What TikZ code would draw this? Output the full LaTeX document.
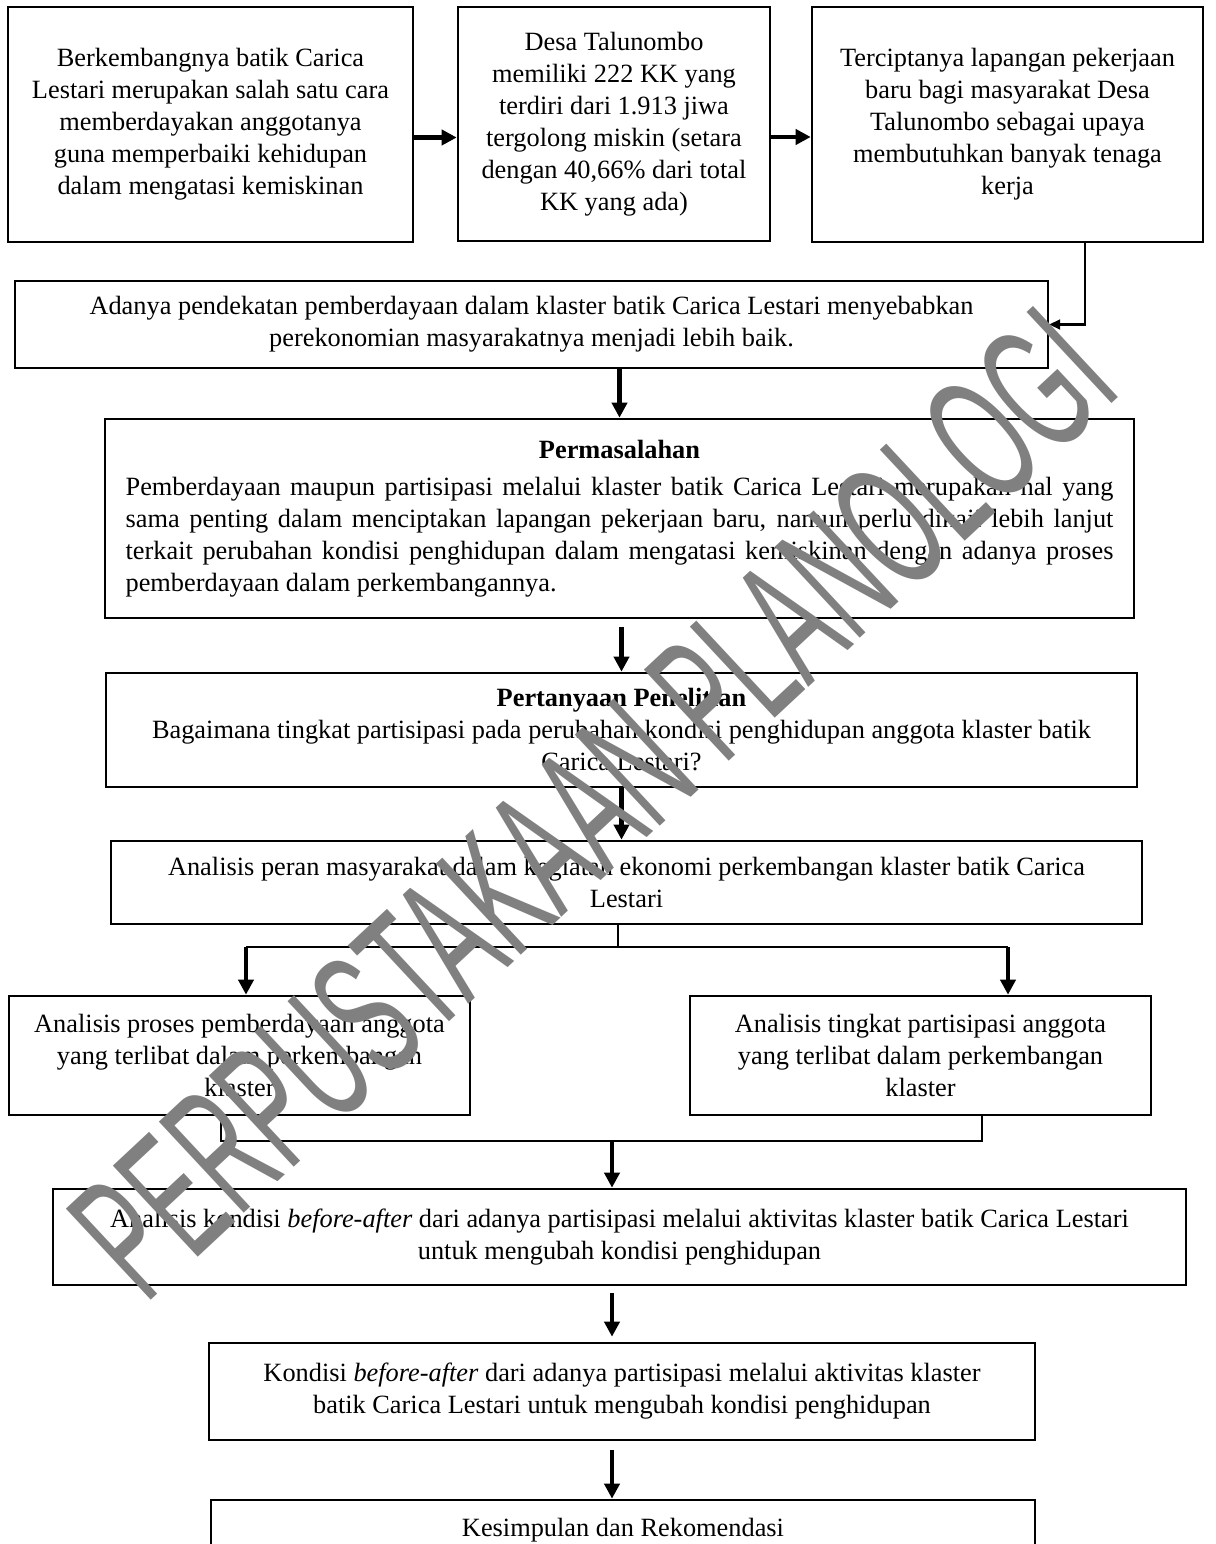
\documentclass[tikz,border=0pt]{standalone}
\usepackage{fontspec}
\setmainfont{Liberation Serif}
\newfontfamily\wmfont{Liberation Sans}
\usepackage{graphicx}
\usetikzlibrary{arrows.meta}
\tikzset{box/.style={draw, line width=1.5pt, align=center, inner sep=0pt,
   font=\fontsize{15}{18.2}\selectfont},
 flow/.style={-{Triangle[length=0.3cm,width=0.3cm]}, line width=2.3pt},
 thinflow/.style={-{Triangle[length=0.22cm,width=0.2cm]}, line width=1.2pt},
 link/.style={line width=1.3pt},
 wmark/.style={text=black!50, inner sep=0pt,
   font=\wmfont\fontsize{103}{103}\selectfont},
 }

\begin{document}
\begin{tikzpicture}[x=0.02cm, y=-0.02cm]
        \clip (0,0) rectangle (1215,1544);
        \node[box, minimum width=8.1cm, minimum height=4.7cm] (b1) at (210.5,124.5)
            {Berkembangnya batik Carica\\ Lestari merupakan salah satu cara\\ memberdayakan anggotanya\\ guna memperbaiki kehidupan\\ dalam mengatasi kemiskinan};
        \node[box, minimum width=6.24cm, minimum height=4.68cm] (b2) at (614,124)
            {Desa Talunombo\\ memiliki 222 KK yang\\ terdiri dari 1.913 jiwa\\ tergolong miskin (setara\\ dengan 40,66\% dari total\\ KK yang ada)};
        \node[box, minimum width=7.82cm, minimum height=4.7cm] (b3) at (1007.5,124.5)
            {Terciptanya lapangan pekerjaan\\ baru bagi masyarakat Desa\\ Talunombo sebagai upaya\\ membutuhkan banyak tenaga\\ kerja};
        \node[box, minimum width=20.66cm, minimum height=1.74cm] (b4) at (531.5,324.5)
            {Adanya pendekatan pemberdayaan dalam klaster batik Carica Lestari menyebabkan\\ perekonomian masyarakatnya menjadi lebih baik.};
        \node[box, minimum width=20.58cm, minimum height=3.98cm, text width=19.76cm, align=justify] (b5) at (619.5,518.5)
            {{\centering\textbf{Permasalahan}\par}\vskip 3pt
             Pemberdayaan maupun partisipasi melalui klaster batik Carica Lestari merupakan hal yang\linebreak
             sama penting dalam menciptakan lapangan pekerjaan baru, namun perlu dikaji lebih lanjut\linebreak
             terkait perubahan kondisi penghidupan dalam mengatasi kemiskinan dengan adanya proses\linebreak
             pemberdayaan dalam perkembangannya.};
        \node[box, minimum width=20.62cm, minimum height=2.28cm] (b6) at (621.5,730)
            {\textbf{Pertanyaan Penelitian}\\ Bagaimana tingkat partisipasi pada perubahan kondisi penghidupan anggota klaster batik\\ Carica Lestari?};
        \node[box, minimum width=20.62cm, minimum height=1.66cm] (b7) at (626.5,882.5)
            {Analisis peran masyarakat dalam kegiatan ekonomi perkembangan klaster batik Carica\\ Lestari};
        \node[box, minimum width=9.22cm, minimum height=2.38cm] (b8) at (239.5,1055.5)
            {Analisis proses pemberdayaan anggota\\ yang terlibat dalam perkembangan\\ klaster};
        \node[box, minimum width=9.22cm, minimum height=2.38cm] (b9) at (920.5,1055.5)
            {Analisis tingkat partisipasi anggota\\ yang terlibat dalam perkembangan\\ klaster};
        \node[box, minimum width=22.66cm, minimum height=1.92cm] (b10) at (619.5,1237)
            {Analisis kondisi \textit{before-after} dari adanya partisipasi melalui aktivitas klaster batik Carica Lestari\\ untuk mengubah kondisi penghidupan};
        \node[box, minimum width=16.52cm, minimum height=1.94cm] (b11) at (622,1391.5)
            {Kondisi \textit{before-after} dari adanya partisipasi melalui aktivitas klaster\\ batik Carica Lestari untuk mengubah kondisi penghidupan};
        \node[box, minimum width=16.48cm, minimum height=1.2cm] (b12) at (623,1530)
            {Kesimpulan dan Rekomendasi};

        \coordinate (split) at (618,947);
        \coordinate (sL) at (246,947);
        \coordinate (sR) at (1008,947);
        \coordinate (jL) at (221,1141);
        \coordinate (jR) at (982,1141);
        \coordinate (jM) at (612,1141);

        \draw[flow] ([yshift=-0.26cm]b1.east) -- ([yshift=-0.26cm]b1.east -| b2.west);
        \draw[flow] ([yshift=-0.26cm]b2.east) -- ([yshift=-0.26cm]b2.east -| b3.west);
        \draw[thinflow] ([xshift=1.55cm]b3.south) |- (b4.east);
        \draw[flow] (b4.south -| b5.north) -- (b5.north);
        \draw[flow, shorten <=0.16cm] (b5.south -| b6.north) -- (b6.north);
        \draw[flow] (b6.south) -- (b6.south |- b7.north);
        \draw[link] (b7.south -| split) -- (split);
        \draw[link] (sL) -- (sR);
        \draw[flow] (sL) -- (sL |- b8.north);
        \draw[flow] (sR) -- (sR |- b9.north);
        \draw[link] (jL |- b8.south) -- (jL) -- (jR) -- (jR |- b9.south);
        \draw[flow] (jM) -- (jM |- b10.north);
        \draw[flow, shorten <=0.14cm, shorten >=0.1cm] (b10.south -| jM) -- (jM |- b11.north);
        \draw[flow, shorten <=0.18cm] (b11.south -| jM) -- (jM |- b12.north);

        \node[wmark, rotate=43] (wm) at (593,803) {\scalebox{0.525}[1]{PERPUSTAKAAN PLANOLOGI}};
    \end{tikzpicture}
\end{document}
